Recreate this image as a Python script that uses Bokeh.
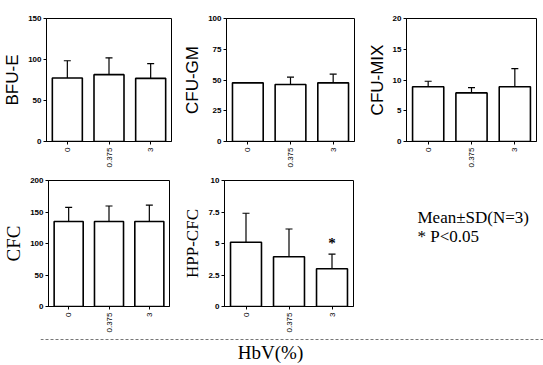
import math
from bokeh.plotting import figure
from bokeh.models import ColumnDataSource, Whisker, TeeHead, FixedTicker, Label, Span, FactorRange, Range1d
from bokeh.layouts import column, row
from bokeh.embed import file_html
from bokeh.resources import INLINE
from bokeh.core.properties import value

doses = ["0", "0.375", "3"]

bfu_e_mean = [77.5, 81.5, 77.0]
bfu_e_sd = [21.0, 20.5, 18.0]
cfu_gm_mean = [47.7, 46.3, 47.7]
cfu_gm_sd = [0.0, 6.0, 7.0]
cfu_mix_mean = [8.9, 7.9, 8.9]
cfu_mix_sd = [0.9, 0.85, 2.95]
cfc_mean = [135, 135, 135]
cfc_sd = [22.5, 24.5, 26.0]
hpp_mean = [5.1, 3.95, 3.0]
hpp_sd = [2.3, 2.2, 1.15]

bfu_e_ticks = [0, 50, 100, 150]
cfu_gm_ticks = [0, 25, 50, 75, 100]
cfu_mix_ticks = [0, 5, 10, 15, 20]
cfc_ticks = [0, 50, 100, 150, 200]
hpp_ticks = [0, 2.5, 5, 7.5, 10]

significant = [False, False, True]

SANS = "Liberation Sans"
SERIF = "Liberation Serif"


def panel(label, means, sds, ticks, width, height, left, right, top, bottom, label_font, label_size="17px"):
    p = figure(x_range=FactorRange(factors=doses, range_padding=0.0),
               y_range=Range1d(0, ticks[-1]),
               width=width, height=height, output_backend="svg", toolbar_location=None,
               min_border_left=left, min_border_right=right, min_border_top=top,
               min_border_bottom=bottom)
    src = ColumnDataSource(dict(x=doses, y=means,
                                upper=[m + s for m, s in zip(means, sds)],
                                lower=[m - s for m, s in zip(means, sds)]))
    p.vbar(x="x", top="y", bottom=0, width=0.72, source=src,
           fill_color="white", line_color="black", line_width=1.6)
    w = Whisker(base="x", upper="upper", lower="lower", source=src,
                line_color="black", line_width=1.2,
                upper_head=TeeHead(size=7, line_color="black", line_width=1.2),
                lower_head=TeeHead(size=7, line_color="black", line_width=1.2))
    p.add_layout(w)
    p.xgrid.visible = False
    p.ygrid.visible = False
    p.outline_line_color = "black"
    p.outline_line_width = 1
    p.background_fill_color = "white"
    p.border_fill_color = "white"

    p.yaxis.ticker = FixedTicker(ticks=ticks)
    p.yaxis.minor_tick_line_color = None
    p.yaxis.major_tick_out = 3
    p.yaxis.major_tick_in = 0
    p.yaxis.major_label_standoff = 2
    p.yaxis.major_label_text_font = SANS
    p.yaxis.major_label_text_font_size = "8px"
    p.yaxis.major_label_text_font_style = "bold"
    p.yaxis.major_label_text_color = "black"
    p.yaxis.axis_label = label
    p.yaxis.axis_label_text_font = label_font
    p.yaxis.axis_label_text_font_size = label_size
    p.yaxis.axis_label_text_font_style = "normal"
    p.yaxis.axis_label_text_color = "black"
    p.yaxis.axis_label_standoff = 3
    p.yaxis.axis_line_color = "black"
    p.yaxis.major_tick_line_color = "black"

    p.xaxis.major_label_orientation = math.pi / 2
    p.xaxis.major_tick_out = 3
    p.xaxis.major_tick_in = 0
    p.xaxis.major_label_standoff = 3
    p.xaxis.major_label_text_font = SANS
    p.xaxis.major_label_text_font_size = "8px"
    p.xaxis.major_label_text_color = "black"
    p.xaxis.axis_line_color = "black"
    p.xaxis.major_tick_line_color = "black"
    return p, src


p1, _ = panel("BFU-E", bfu_e_mean, bfu_e_sd, bfu_e_ticks, 180, 170, 40, 9, 13, 29, SANS)
p2, _ = panel("CFU-GM", cfu_gm_mean, cfu_gm_sd, cfu_gm_ticks, 182, 170, 42, 8, 14, 28, SANS)
p3, _ = panel("CFU-MIX", cfu_mix_mean, cfu_mix_sd, cfu_mix_ticks, 181, 170, 44, 7, 18, 25, SANS)
p4, _ = panel("CFC", cfc_mean, cfc_sd, cfc_ticks, 180, 165, 40, 11, 10, 25, SERIF, "19px")
p5, src5 = panel("HPP-CFC", hpp_mean, hpp_sd, hpp_ticks, 182, 165, 42, 9, 9, 27, SERIF, "17px")

# significance star
star_x = [d for d, s in zip(doses, significant) if s]
star_y = [m + s + 0.9 for m, s, sig in zip(hpp_mean, hpp_sd, significant) if sig]
p5.text(x=star_x, y=star_y, text=["*"], text_align="center", text_baseline="middle",
        text_font=value(SERIF), text_font_size="15px", text_font_style="bold", text_color="black")

# legend text panel
p6 = figure(width=181, height=165, output_backend="svg", toolbar_location=None,
            x_range=Range1d(0, 181), y_range=Range1d(0, 165),
            min_border=0)
p6.axis.visible = False
p6.grid.visible = False
p6.outline_line_color = None
p6.add_layout(Label(x=55, y=165 - 49, text="Mean±SD(N=3)", text_font=SERIF,
                    text_font_size="17px", text_baseline="middle", text_color="black"))
p6.add_layout(Label(x=55, y=165 - 73, text="* P<0.05", text_font=SERIF,
                    text_font_size="17px", text_baseline="middle", text_color="black"))

# bottom: dashed line and x-axis title
p7 = figure(width=543, height=30, output_backend="svg", toolbar_location=None,
            x_range=Range1d(0, 503), y_range=Range1d(0, 30),
            min_border_left=40, min_border_right=0, min_border_top=0, min_border_bottom=0)
p7.axis.visible = False
p7.grid.visible = False
p7.outline_line_color = None
p7.add_layout(Span(location=26, dimension="width", line_color="#777777",
                   line_width=1, line_dash="3 2"))
p7.add_layout(Label(x=230, y=13, text="HbV(%)", text_font=SERIF, text_font_size="19px",
                    text_align="center", text_baseline="middle", text_color="black"))

layout = column(row(p1, p2, p3), row(p4, p5, p6), p7)

open("out.html", "w").write(file_html(layout, INLINE))
